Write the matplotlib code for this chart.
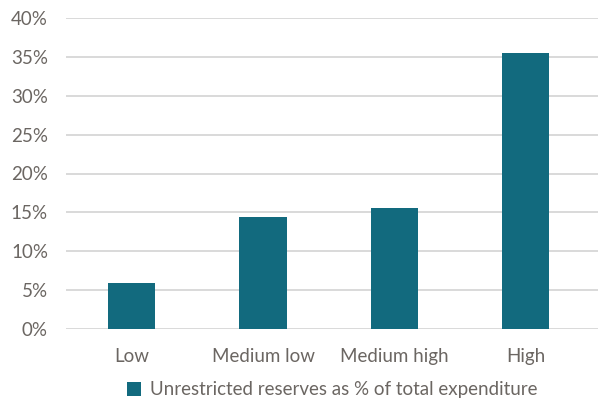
import matplotlib.pyplot as plt
from matplotlib.ticker import PercentFormatter, MultipleLocator

categories = ["Low", "Medium low", "Medium high", "High"]
reserves_pct = [5.9, 14.4, 15.5, 35.5]
series_label = "Unrestricted reserves as % of total expenditure"

BAR = "#126a7e"
TEXT = "#6b6662"
GRID = "#d9d9d9"

plt.rcParams["font.family"] = ["Lato", "DejaVu Sans"]

fig = plt.figure(figsize=(6, 4), dpi=100)
ax = fig.add_axes([66 / 600, 1 - 329 / 400, (598 - 66) / 600, (329 - 18) / 400])

x = range(len(categories))
ax.bar(x, reserves_pct, width=0.36, color=BAR, zorder=3, label=series_label)

ax.set_ylim(0, 40)
ax.set_xlim(-0.5, 3.55)
ax.yaxis.set_major_locator(MultipleLocator(5))
ax.yaxis.set_major_formatter(PercentFormatter(decimals=0))
ax.set_xticks(list(x))
ax.set_xticklabels(categories)

ax.grid(axis="y", color=GRID, linewidth=1.4, zorder=0)
for s in ax.spines.values():
    s.set_visible(False)
ax.tick_params(axis="both", length=0, colors=TEXT, labelsize=13.5)
ax.tick_params(axis="y", pad=13)
ax.tick_params(axis="x", pad=14)

leg = fig.legend(loc="center", bbox_to_anchor=(332 / 600, 1 - 390 / 400),
                 frameon=False, fontsize=13.5, handlelength=0.75, handleheight=0.75,
                 handletextpad=0.5, labelcolor=TEXT)

fig.savefig("out.png", dpi=100)
